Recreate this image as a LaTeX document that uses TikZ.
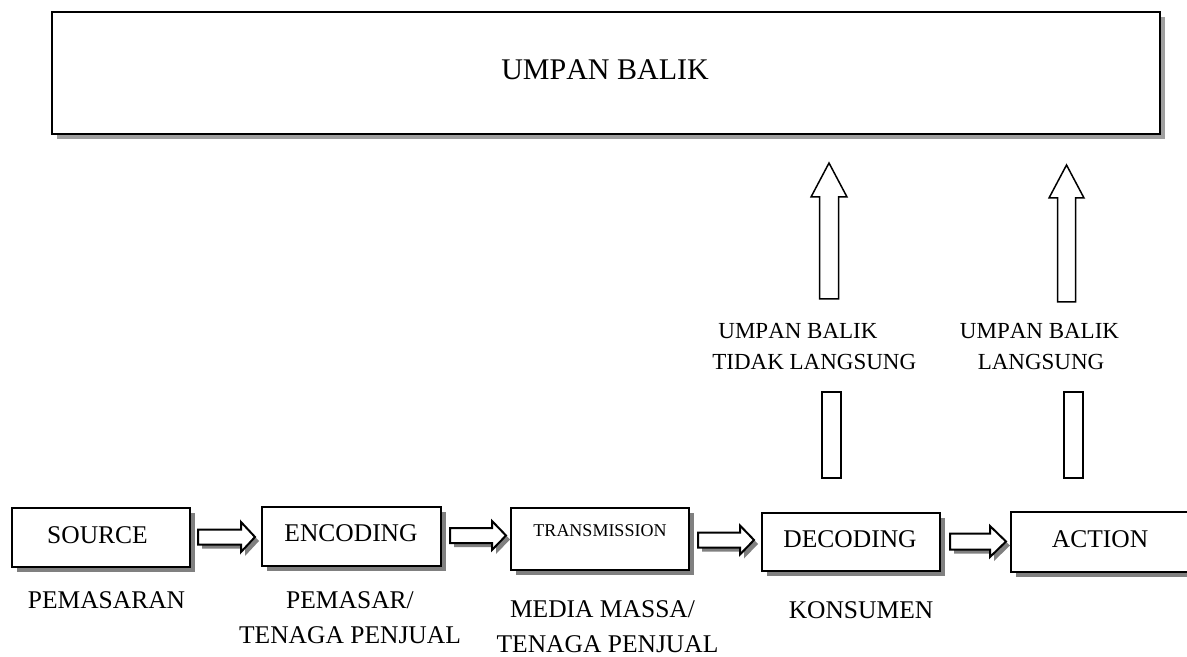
\documentclass[tikz,border=0pt]{standalone}
\usepackage{fontspec}
\setmainfont{Liberation Serif}[Kerning=Off]
\usetikzlibrary{shadows}
\newcommand\hbarrow[6]{% x1, x2, xbase, yc, shaft half, head half
  \fill[gray,shift={(2pt,-2pt)}] (#1,#4-#5) -- (#3,#4-#5) -- (#3,#4-#6) -- (#2,#4) -- (#3,#4+#6) -- (#3,#4+#5) -- (#1,#4+#5) -- cycle;
  \draw[line width=1pt,fill=white,line join=miter] (#1,#4-#5) -- (#3,#4-#5) -- (#3,#4-#6) -- (#2,#4) -- (#3,#4+#6) -- (#3,#4+#5) -- (#1,#4+#5) -- cycle;}
\newcommand\vbarrow[6]{% cx, ytip, ybase, ybottom, shaft half, head half
  \draw[line width=0.75pt,fill=white] (#1-#5,#4) -- (#1-#5,#3) -- (#1-#6,#3) -- (#1,#2) -- (#1+#6,#3) -- (#1+#5,#3) -- (#1+#5,#4) -- cycle;}
\begin{document}
\begin{tikzpicture}[x=0.5pt,y=-0.5pt,
  box/.style={draw,line width=1pt,fill=white,inner sep=0pt,
    drop shadow={shadow xshift=2.25pt,shadow yshift=-2.25pt,fill=gray,opacity=1}},
  bigbox/.style={draw,line width=1pt,fill=white,inner sep=0pt,
    drop shadow={shadow xshift=2.5pt,shadow yshift=-2.5pt,fill=gray!75,opacity=1}},
  txt/.style={inner sep=0pt,anchor=base,font=\fontsize{12.75}{15}\selectfont},
  lab/.style={inner sep=0pt,anchor=base,font=\fontsize{11.5}{14}\selectfont},
  bar/.style={draw,line width=0.75pt}]
\useasboundingbox (0,0) rectangle (1187,657);
\clip (0,0) rectangle (1187,657);

% feedback box
\node[bigbox,minimum width=554pt,minimum height=61pt] (fb) at (606,73) {};
\node[inner sep=0pt,anchor=base,font=\fontsize{15}{18}\selectfont] (fbt) at (605,79.3) {UMPAN BALIK};

% process boxes
\node[box,minimum width=89pt,minimum height=29.5pt] (src) at (101,537.5) {};
\node[box,minimum width=89.5pt,minimum height=29.5pt] (enc) at (351.5,536.5) {};
\node[box,minimum width=89pt,minimum height=31pt] (trn) at (600,539) {};
\node[box,minimum width=89pt,minimum height=29pt] (dec) at (851,542) {};
\node[box,minimum width=90pt,minimum height=30pt] (act) at (1101,542) {};

\node[txt] (srct) at (97.5,543) {SOURCE};
\node[txt] (enct) at (351,541) {ENCODING};
\node[txt,font=\fontsize{9}{11}\selectfont] (trnt) at (600,536) {TRANSMISSION};
\node[txt] (dect) at (850,547) {DECODING};
\node[txt] (actt) at (1100,547) {ACTION};

% horizontal block arrows
\hbarrow{198}{255}{241}{537}{7.5}{15}
\hbarrow{450}{506}{492}{535.5}{7.5}{14.5}
\hbarrow{698}{754}{740}{540}{7.5}{14.5}
\hbarrow{950}{1006}{990}{541.5}{8}{15.5}

% bottom labels
\node[txt] (l1) at (106.5,608) {PEMASARAN};
\node[txt] (l2a) at (350,608) {PEMASAR/};
\node[txt] (l2b) at (350,643) {TENAGA PENJUAL};
\node[txt] (l3a) at (602.5,617) {MEDIA MASSA/};
\node[txt] (l3b) at (607.5,652) {TENAGA PENJUAL};
\node[txt] (l4) at (861,618) {KONSUMEN};

% feedback columns
\node[bar,minimum width=9.5pt,minimum height=43pt,inner sep=0pt] (r1) at (831.5,435) {};
\node[bar,minimum width=9.5pt,minimum height=43pt,inner sep=0pt] (r2) at (1073.5,435) {};

\node[lab,anchor=base west] (u1a) at (718,338) {UMPAN BALIK};
\node[lab,anchor=base west] (u1b) at (712,369) {TIDAK LANGSUNG};
\node[lab] (u2a) at (1039.5,338) {UMPAN BALIK};
\node[lab] (u2b) at (1041,369) {LANGSUNG};

\vbarrow{829}{163}{197}{299}{9.5}{18}
\vbarrow{1066.5}{165}{198}{302}{9}{17.5}
\end{tikzpicture}
\end{document}
